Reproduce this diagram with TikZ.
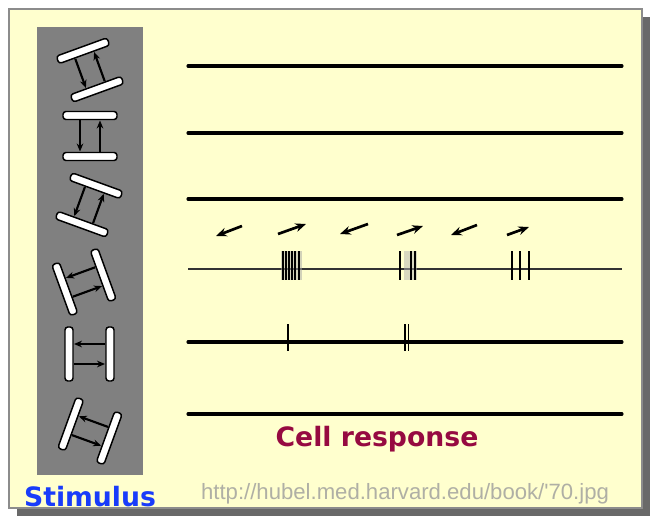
\documentclass[tikz,border=0pt]{standalone}
\usepackage{fontspec}
\newfontfamily\dejavu{DejaVu Sans}
\newfontfamily\libsans{Liberation Sans}
\usetikzlibrary{arrows.meta}
\definecolor{panelfill}{RGB}{255,255,206}
\definecolor{panelborder}{RGB}{140,140,140}
\definecolor{shadowgrey}{RGB}{105,105,105}
\definecolor{stripgrey}{RGB}{128,128,128}
\definecolor{stimblue}{RGB}{25,60,250}
\definecolor{respred}{RGB}{150,10,65}
\definecolor{urlgrey}{RGB}{175,175,165}
\tikzset{
  bar/.style={draw=black, fill=white, line width=1.1pt, rounded corners=2.2pt},
  stimarrow/.style={line width=1.6pt, -{Stealth[length=6pt,width=5pt]}},
  motionarrow/.style={line width=2pt, -{Stealth[length=8pt,width=6.5pt]}},
  trace/.style={line width=2.3pt, line cap=round},
  thintrace/.style={line width=1.4pt, draw=black!80},
  spike/.style={line width=1.4pt},
  pair/.pic={
    \draw[bar] (-27,16.5) rectangle (27,24.5);
    \draw[bar] (-27,-24.5) rectangle (27,-16.5);
    \draw[stimarrow] (-10,15.5) -- (-10,-15.5);
    \draw[stimarrow] (10,-15.5) -- (10,15.5);
  }
}
\begin{document}
\begin{tikzpicture}[x=0.75pt,y=0.75pt]
\useasboundingbox (0,0) rectangle (652,-524);
\fill[white] (0,0) rectangle (652,-524);
% shadow and panel
\fill[shadowgrey] (17,-17) rectangle (650,-516);
\draw[panelborder, line width=1.2pt, fill=panelfill] (9,-9) rectangle (642,-508);
% stimulus strip
\fill[stripgrey] (37,-27) rectangle (143,-475);
\pic[rotate=20]  (p1) at (90,-70)   {pair};
\pic             (p2) at (90,-136)  {pair};
\pic[rotate=-20] (p3) at (89,-205)  {pair};
\pic[rotate=110] (p4) at (84,-282)  {pair};
\pic[rotate=90]  (p5) at (89.5,-354) {pair};
\pic[rotate=70]  (p6) at (90,-431)  {pair};
% traces
\foreach \i/\y/\s in {1/66/trace,2/133/trace,3/199/trace,4/269/thintrace,5/342/trace,6/414/trace}{
  \coordinate (l\i) at (188,-\y);
  \coordinate (r\i) at (622,-\y);
  \draw[\s] (l\i) -- (r\i);
}
% spikes on trace 4
\fill[black!35, opacity=0.5] (281,-251) rectangle (302,-280);
\fill[black!30, opacity=0.5] (404,-251) rectangle (417,-280);
\foreach \x in {283,286,289,292,295,299,400,411,415,512,520,529}{
  \draw[spike] (\x,-251) -- (\x,-280);
}
% spikes on trace 5
\foreach \x in {288,405,408.5}{
  \draw[spike, line width=1pt] (\x,-324) -- (\x,-351);
}
% motion arrows
\coordinate (a1t) at (242,-226); \coordinate (a1h) at (216,-236);
\coordinate (a2t) at (278,-234); \coordinate (a2h) at (306,-224);
\coordinate (a3t) at (368,-224); \coordinate (a3h) at (340,-234);
\coordinate (a4t) at (397,-235); \coordinate (a4h) at (423,-226);
\coordinate (a5t) at (477,-225); \coordinate (a5h) at (451,-235);
\coordinate (a6t) at (507,-235); \coordinate (a6h) at (529,-227);
\foreach \i in {1,...,6}{\draw[motionarrow] (a\i t) -- (a\i h);}
% texts
\node[font=\dejavu\bfseries\fontsize{20}{24}\selectfont, text=stimblue] (stim) at (90,-497) {Stimulus};
\node[font=\dejavu\bfseries\fontsize{20}{24}\selectfont, text=respred] (resp) at (377,-439) {Cell response};
\node[font=\libsans\fontsize{16.6}{19}\selectfont, text=urlgrey] (url) at (405,-494) {http://hubel.med.harvard.edu/book/'70.jpg};
\end{tikzpicture}
\end{document}
